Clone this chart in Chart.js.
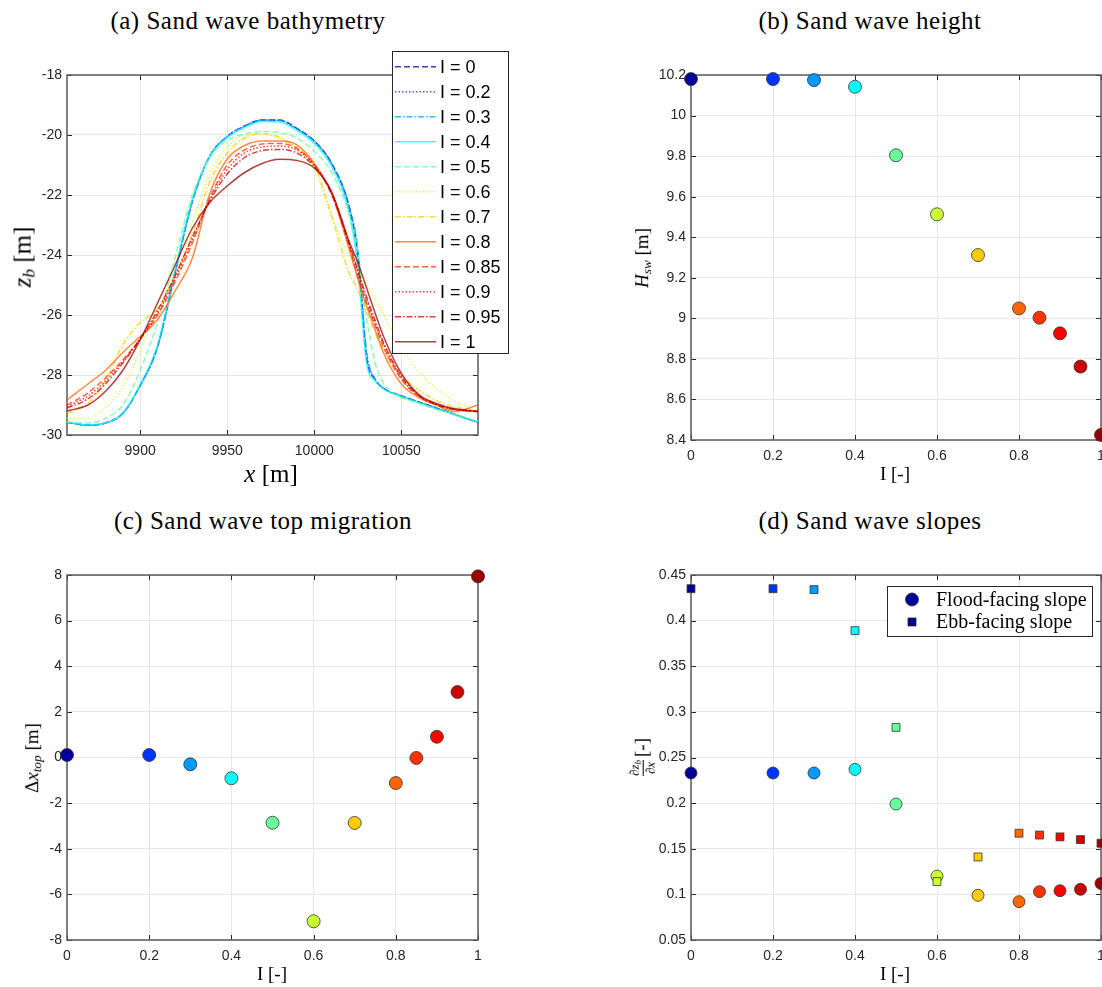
<!DOCTYPE html>
<html>
<head>
<meta charset="utf-8">
<script src="https://cdn.jsdelivr.net/npm/chart.js@4.4.0/dist/chart.umd.min.js"></script>
<style>
  body { margin: 0; background: #fff; }
  #page { position: relative; width: 1102px; height: 987px; overflow: hidden; }
  canvas { position: absolute; }
  .lbl { position: absolute; transform: translate(-50%, -50%); white-space: nowrap;
         font-family: 'Liberation Serif', serif; color: #000; line-height: 1; }
  .rot { transform: translate(-50%, -50%) rotate(-90deg); }
  .title { font-size: 25px; letter-spacing: 0.5px; }
  sub { font-size: 0.7em; vertical-align: -0.25em; }
  .frac { display: inline-flex; flex-direction: column; vertical-align: middle;
          font-size: 13px; text-align: center; line-height: 1.1; margin-right: 3px; }
  .frac .den { border-top: 1px solid #000; }
</style>
</head>
<body>
<div id="page">
  <canvas id="bathy" width="520" height="460" style="left:0;top:40px"></canvas>
  <canvas id="height" width="502" height="460" style="left:600px;top:40px"></canvas>
  <canvas id="shift" width="520" height="447" style="left:0;top:540px"></canvas>
  <canvas id="slopes" width="502" height="447" style="left:600px;top:540px"></canvas>

  <div class="lbl title" style="left:248px;top:20px">(a) Sand wave bathymetry</div>
  <div class="lbl title" style="left:870px;top:20px">(b) Sand wave height</div>
  <div class="lbl title" style="left:263px;top:520px">(c) Sand wave top migration</div>
  <div class="lbl title" style="left:870px;top:520px">(d) Sand wave slopes</div>

  <div class="lbl" style="left:271px;top:473px;font-size:25px"><i>x</i> [m]</div>
  <div class="lbl rot" style="left:24px;top:257px;font-size:25px"><i>z</i><sub><i>b</i></sub> [m]</div>
  <div class="lbl rot" style="left:643px;top:258px;font-size:19px"><i>H</i><sub><i>sw</i></sub> [m]</div>
  <div class="lbl" style="left:895px;top:473px;font-size:19px">I [-]</div>
  <div class="lbl rot" style="left:33px;top:758px;font-size:19px">Δ<i>x</i><sub><i>top</i></sub> [m]</div>
  <div class="lbl" style="left:272px;top:973px;font-size:19px">I [-]</div>
  <div class="lbl rot" style="left:643px;top:757px;font-size:19px"><span class="frac"><span>∂<i>z</i><sub><i>b</i></sub></span><span class="den">∂<i>x</i></span></span>[-]</div>
  <div class="lbl" style="left:895px;top:973px;font-size:19px">I [-]</div>
</div>

<script>
// tidal asymmetry values, one colour each
const iValues = [0, 0.2, 0.3, 0.4, 0.5, 0.6, 0.7, 0.8, 0.85, 0.9, 0.95, 1]
const iColors = ['#000099', '#0033ff', '#0099ff', '#00ffff', '#66ff99', '#ccff33',
                 '#ffcc00', '#ff6600', '#ff3300', '#ff0000', '#cc0000', '#990000']

// (a) bed profiles, z_b [m] at bathyX [m]
const bathyX = [9858, 9870, 9880, 9890, 9900, 9910, 9920, 9930, 9940, 9950, 9960, 9970, 9980,
                9990, 10000, 10010, 10020, 10025, 10030, 10035, 10040, 10050, 10060, 10070, 10080, 10094]
const bedI000 = [-29.58, -29.67, -29.60, -29.28, -28.35, -27.05, -24.60, -22.20, -20.70, -20.05, -19.70, -19.50, -19.50,
                 -19.78, -20.20, -20.95, -22.40, -24.00, -27.40, -28.15, -28.45, -28.70, -28.90, -29.10, -29.30, -29.58]
const bedI020 = [-29.58, -29.67, -29.60, -29.28, -28.35, -27.05, -24.60, -22.20, -20.70, -20.05, -19.70, -19.50, -19.51,
                 -19.79, -20.21, -20.97, -22.45, -24.05, -27.35, -28.15, -28.45, -28.70, -28.90, -29.10, -29.30, -29.58]
const bedI030 = [-29.58, -29.67, -29.60, -29.28, -28.36, -27.06, -24.62, -22.22, -20.71, -20.06, -19.71, -19.51, -19.52,
                 -19.80, -20.20, -20.95, -22.35, -23.80, -27.20, -28.15, -28.45, -28.70, -28.90, -29.10, -29.30, -29.58]
const bedI040 = [-29.56, -29.66, -29.60, -29.28, -28.33, -27.00, -24.50, -22.15, -20.70, -20.08, -19.74, -19.55, -19.57,
                 -19.85, -20.28, -21.05, -22.60, -24.40, -27.60, -28.20, -28.48, -28.72, -28.92, -29.12, -29.32, -29.56]
const bedI050 = [-29.58, -29.60, -29.45, -29.00, -27.85, -26.25, -24.10, -22.00, -20.75, -20.18, -19.97, -19.88, -19.92,
                 -20.10, -20.55, -21.25, -22.65, -23.90, -26.10, -27.60, -28.30, -28.75, -28.95, -29.15, -29.30, -29.55]
const bedI060 = [-29.44, -29.44, -29.10, -28.40, -27.20, -25.60, -24.40, -22.90, -21.30, -20.40, -20.02, -19.98, -20.12,
                 -20.45, -21.15, -22.70, -24.00, -24.50, -25.00, -25.50, -26.00, -27.10, -27.90, -28.45, -28.85, -29.25]
const bedI070 = [-29.28, -28.95, -28.20, -27.00, -26.25, -25.80, -24.70, -23.30, -21.55, -20.60, -20.10, -19.95, -20.08,
                 -20.42, -21.00, -22.70, -24.60, -25.15, -25.90, -26.60, -27.20, -28.00, -28.50, -28.85, -29.05, -29.20]
const bedI080 = [-28.83, -28.30, -27.85, -27.25, -26.72, -26.15, -25.20, -24.10, -21.95, -20.80, -20.35, -20.20, -20.20,
                 -20.33, -20.95, -21.95, -23.80, -24.80, -25.70, -26.50, -27.30, -28.30, -28.75, -29.00, -29.22, -29.00]
const bedI085 = [-29.00, -28.60, -28.10, -27.50, -26.80, -26.00, -24.90, -23.60, -22.10, -21.00, -20.50, -20.30, -20.28,
                 -20.45, -21.00, -22.00, -23.70, -24.70, -25.60, -26.35, -27.10, -28.15, -28.70, -29.00, -29.15, -29.20]
const bedI090 = [-29.05, -28.70, -28.20, -27.55, -26.80, -25.95, -24.80, -23.50, -22.15, -21.15, -20.60, -20.40, -20.37,
                 -20.50, -21.00, -21.95, -23.65, -24.60, -25.50, -26.30, -27.00, -28.10, -28.70, -28.98, -29.15, -29.22]
const bedI095 = [-29.10, -28.80, -28.30, -27.60, -26.80, -25.85, -24.70, -23.40, -22.20, -21.30, -20.75, -20.52, -20.48,
                 -20.60, -21.05, -21.95, -23.60, -24.50, -25.40, -26.20, -26.95, -28.05, -28.68, -28.97, -29.14, -29.22]
const bedI100 = [-29.20, -29.00, -28.55, -27.85, -26.83, -25.60, -24.35, -23.10, -22.25, -21.70, -21.25, -20.95, -20.81,
                 -20.85, -21.10, -21.90, -23.55, -24.25, -25.10, -25.95, -26.75, -27.95, -28.65, -28.95, -29.12, -29.22]
const bedProfiles = [bedI000, bedI020, bedI030, bedI040, bedI050, bedI060,
                     bedI070, bedI080, bedI085, bedI090, bedI095, bedI100]

// (b) height, (c) top migration, (d) slopes
const heightSw = [10.18, 10.18, 10.175, 10.142, 9.804, 9.513, 9.312, 9.049, 9.003, 8.926, 8.762, 8.425]
const topShift = [0.11, 0.11, -0.30, -0.91, -2.86, -7.18, -2.87, -1.12, -0.02, 0.91, 2.87, 7.94]
const floodSlope = [0.233, 0.233, 0.233, 0.237, 0.199, 0.120, 0.099, 0.092, 0.103, 0.104, 0.1055, 0.112]
const ebbSlope = [0.435, 0.435, 0.434, 0.389, 0.283, 0.114, 0.141, 0.167, 0.165, 0.163, 0.160, 0.156]

// ticks
const bathyXTicks = [9900, 9950, 10000, 10050]
const bathyYTicks = [-30, -28, -26, -24, -22, -20, -18]
const iTicks = [0, 0.2, 0.4, 0.6, 0.8, 1]
const heightTicks = [8.4, 8.6, 8.8, 9, 9.2, 9.4, 9.6, 9.8, 10, 10.2]
const shiftTicks = [-8, -6, -4, -2, 0, 2, 4, 6, 8]
const slopeTicks = [0.05, 0.1, 0.15, 0.2, 0.25, 0.3, 0.35, 0.4, 0.45]

// matlab line styles: --  :  -.  -
const dashes = { dash: [6, 3], dot: [1.5, 2], dashdot: [6, 2, 1.5, 2], solid: [] }
const lineStyles = ['dash', 'dot', 'dashdot', 'solid', 'dash', 'dot', 'dashdot', 'solid', 'dash', 'dot', 'dashdot', 'solid']

const tickFont = { family: 'Liberation Sans', size: 14 }
const tickColor = '#262626'
const fmt = v => String(Math.round(v * 1000) / 1000)

function withAlpha(hex, a) {
  const n = parseInt(hex.slice(1), 16)
  return `rgba(${n >> 16},${(n >> 8) & 255},${n & 255},${a})`
}

function axis(min, max, ticks, isX) {
  return {
    type: 'linear', min: min, max: max,
    afterBuildTicks: s => { s.ticks = ticks.map(v => ({ value: v })) },
    afterFit: s => {
      if (isX) s.height = 30
      else s.width = 60
      s.paddingLeft = 0; s.paddingRight = 0; s.paddingTop = 0; s.paddingBottom = 0
    },
    grid: { color: '#e6e6e6', lineWidth: 1, drawTicks: false },
    border: { display: false },
    ticks: { font: tickFont, color: tickColor, padding: isX ? 8 : 5,
             autoSkip: false, maxRotation: 0, callback: v => fmt(v) }
  }
}

// box and inward ticks, drawn under the data like matlab
const axesFrame = {
  id: 'axesFrame',
  beforeDatasetsDraw(chart) {
    const { ctx, chartArea: a } = chart
    const xs = chart.scales.x, ys = chart.scales.y
    ctx.save()
    ctx.strokeStyle = '#262626'
    ctx.lineWidth = 1
    ctx.beginPath()
    xs.ticks.forEach(t => {
      const px = Math.round(xs.getPixelForValue(t.value)) + 0.5
      ctx.moveTo(px, a.bottom); ctx.lineTo(px, a.bottom - 5)
      ctx.moveTo(px, a.top); ctx.lineTo(px, a.top + 5)
    })
    ys.ticks.forEach(t => {
      const py = Math.round(ys.getPixelForValue(t.value)) + 0.5
      ctx.moveTo(a.left, py); ctx.lineTo(a.left + 5, py)
      ctx.moveTo(a.right, py); ctx.lineTo(a.right - 5, py)
    })
    ctx.stroke()
    ctx.strokeStyle = '#5a5a5a'
    ctx.lineWidth = 1.5
    ctx.strokeRect(Math.round(a.left), Math.round(a.top), Math.round(a.width), Math.round(a.height))
    ctx.restore()
  }
}

const bathyLegend = {
  id: 'bathyLegend',
  afterDraw(chart) {
    const ctx = chart.ctx
    ctx.save()
    ctx.fillStyle = '#fff'
    ctx.fillRect(392, 11, 116, 302)
    ctx.strokeStyle = '#262626'
    ctx.lineWidth = 1
    ctx.strokeRect(392.5, 11.5, 116, 302)
    chart.data.datasets.forEach((ds, i) => {
      const yy = 26.7 + i * 25
      ctx.strokeStyle = ds.borderColor
      ctx.lineWidth = ds.borderWidth
      ctx.setLineDash(ds.borderDash)
      ctx.beginPath(); ctx.moveTo(395, yy); ctx.lineTo(436, yy); ctx.stroke()
      ctx.setLineDash([])
      ctx.fillStyle = '#000'
      ctx.font = '18px "Liberation Sans"'
      ctx.textBaseline = 'middle'
      ctx.fillText(ds.label, 440, yy + 1)
    })
    ctx.restore()
  }
}

const slopeLegend = {
  id: 'slopeLegend',
  afterDraw(chart) {
    const ctx = chart.ctx
    ctx.save()
    ctx.fillStyle = '#fff'
    ctx.fillRect(287, 46, 205, 50)
    ctx.strokeStyle = '#262626'
    ctx.lineWidth = 1
    ctx.strokeRect(287.5, 46.5, 205, 50)
    const sorted = chart.data.datasets.slice().sort((p, q) => q.order - p.order)
    sorted.forEach((ds, i) => {
      const yy = 59.5 + i * 22.5
      ctx.fillStyle = ds.pointBackgroundColor[0]
      ctx.strokeStyle = '#262626'
      ctx.lineWidth = 0.8
      ctx.beginPath()
      if (ds.pointStyle === 'rect') ctx.rect(312 - 4, yy - 4, 8, 8)
      else ctx.arc(312, yy, 6.5, 0, Math.PI * 2)
      ctx.fill(); ctx.stroke()
      ctx.fillStyle = '#000'
      ctx.font = '20px "Liberation Serif"'
      ctx.textBaseline = 'middle'
      ctx.fillText(ds.label, 336, yy + 1)
    })
    ctx.restore()
  }
}

function scatterSet(label, values, style, radius, order) {
  return {
    label: label,
    data: values.map((v, i) => ({ x: iValues[i], y: v })),
    pointStyle: style,
    pointRadius: radius,
    pointBackgroundColor: iColors,
    pointBorderColor: '#333333',
    pointBorderWidth: 0.8,
    showLine: false,
    clip: false,
    order: order
  }
}

// area = plot box wanted inside the canvas (axes are 60 px wide / 30 px tall)
function makeChart(id, datasets, xAxis, yAxis, area, plugins) {
  const canvas = document.getElementById(id)
  const pad = { left: area.left - 60, top: area.top,
                right: canvas.width - area.right, bottom: canvas.height - area.bottom - 30 }
  return new Chart(canvas, {
    type: 'scatter',
    data: { datasets: datasets },
    options: {
      responsive: false, animation: false, devicePixelRatio: 1,
      layout: { padding: pad, autoPadding: false },
      scales: { x: xAxis, y: yAxis },
      plugins: { legend: { display: false }, tooltip: { enabled: false } },
      events: []
    },
    plugins: [axesFrame].concat(plugins)
  })
}

// (a) bathymetry
const bedSets = bedProfiles.map((z, k) => ({
  label: `I = ${iValues[k]}`,
  type: 'line',
  data: z.map((v, j) => ({ x: bathyX[j], y: v })),
  borderColor: withAlpha(iColors[k], 0.75),
  borderWidth: 1.5,
  borderDash: dashes[lineStyles[k]],
  pointRadius: 0,
  fill: false,
  cubicInterpolationMode: 'monotone',
  order: 12 - k
}))
makeChart('bathy', bedSets,
  axis(9858, 10094, bathyXTicks, true), axis(-30, -18, bathyYTicks, false),
  { left: 67, top: 35, right: 478, bottom: 395 }, [bathyLegend])

// (b) height
makeChart('height', [scatterSet('H', heightSw, 'circle', 6.5, 0)],
  axis(0, 1, iTicks, true), axis(8.4, 10.2, heightTicks, false),
  { left: 91, top: 35, right: 501, bottom: 400 }, [])

// (c) top migration
makeChart('shift', [scatterSet('dx', topShift, 'circle', 6.5, 0)],
  axis(0, 1, iTicks, true), axis(-8, 8, shiftTicks, false),
  { left: 67, top: 35, right: 478, bottom: 400 }, [])

// (d) slopes
makeChart('slopes', [
    scatterSet('Flood-facing slope', floodSlope, 'circle', 6, 1),
    scatterSet('Ebb-facing slope', ebbSlope, 'rect', 5.6, 0)
  ],
  axis(0, 1, iTicks, true), axis(0.05, 0.45, slopeTicks, false),
  { left: 91, top: 35, right: 501, bottom: 400 }, [slopeLegend])
</script>
</body>
</html>
